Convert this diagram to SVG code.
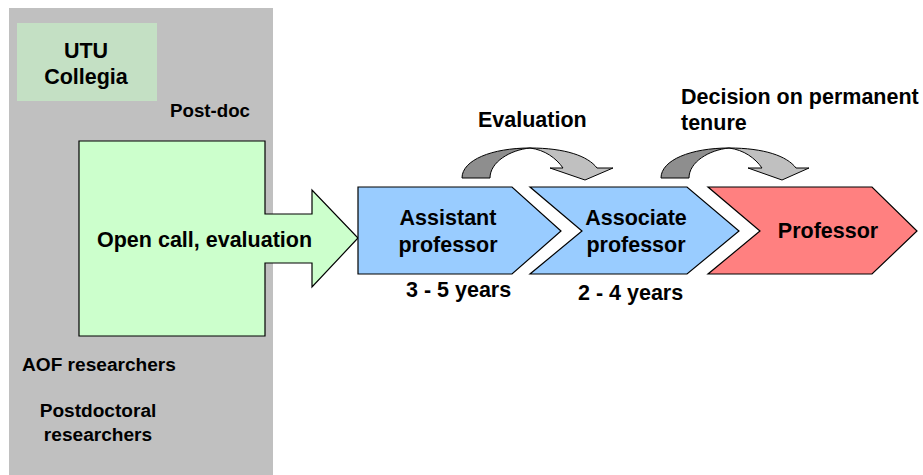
<svg xmlns="http://www.w3.org/2000/svg" width="923" height="475" viewBox="0 0 923 475">
<style>
text{font-family:"Liberation Sans",Arial,sans-serif;font-weight:bold;fill:#000}
.t21{font-size:21.5px}
.t19{font-size:19.1px}
.mid{text-anchor:middle}
.sh{stroke:#000;stroke-width:1.2;stroke-linejoin:miter}
.dark{fill:#8e8e8e;stroke:#000;stroke-width:1}
.light{fill:#c0c0c0;stroke:#000;stroke-width:1}
</style>
<rect width="923" height="475" fill="#fff"/>
<g id="background">
<rect x="9" y="8" width="264" height="467" fill="#c0c0c0"/>
</g>
<g id="utu-collegia">
<rect x="17" y="23" width="140" height="78" fill="#c4e0c4"/>
<text class="t21 mid" x="86" y="58">UTU</text>
<text class="t21 mid" x="86" y="84">Collegia</text>
</g>
<g id="postdoc-label">
<text class="t19" x="170" y="117" style="font-size:18.7px">Post-doc</text>
</g>
<g id="open-call">
<polygon class="sh" fill="#ccffcc" points="79,141 265,141 265,214 312,214 312,190 358,238 312,287 312,263 265,263 265,336 79,336"/>
<text class="t21" x="97" y="247">Open call, evaluation</text>
</g>
<g id="assistant">
<polygon class="sh" fill="#99ccff" points="358,187 512,187 561,231 512,274 358,274"/>
<text class="t21 mid" x="448" y="225">Assistant</text>
<text class="t21 mid" x="448" y="252">professor</text>
<text class="t21" x="406" y="297">3 - 5 years</text>
</g>
<g id="associate">
<polygon class="sh" fill="#99ccff" points="530,187 687,187 739,231 687,274 530,274 582,231"/>
<text class="t21 mid" x="636" y="225">Associate</text>
<text class="t21 mid" x="636" y="252">professor</text>
<text class="t21" x="578" y="300">2 - 4 years</text>
</g>
<g id="professor">
<polygon class="sh" fill="#ff8080" points="708,187 872,187 917,231 872,274 708,274 760,231"/>
<text class="t21 mid" x="828" y="238">Professor</text>
</g>
<g id="connectors">
<g id="evaluation-arrow">
<path class="dark" d="M462,178 C462,160 492,148 530,148 C510,150 490,162 490,178 Z"/>
<path class="light" d="M530,148 C565,148 588,156 597,168 L613,168 L585,180 L550,168 L563,168 C556,158 545,150 530,148 Z"/>
</g>
<g id="tenure-arrow" transform="translate(199,0)">
<path class="dark" d="M462,178 C462,160 492,148 530,148 C510,150 490,162 490,178 Z"/>
<path class="light" d="M530,148 C565,148 588,156 597,168 L610,168 L583,180 L549,168 L563,168 C556,158 545,150 530,148 Z"/>
</g>
</g>
<g id="labels">
<text class="t21" x="478" y="127">Evaluation</text>
<text class="t21" x="681" y="104">Decision on permanent</text>
<text class="t21" x="681" y="130">tenure</text>
<text class="t19" x="22" y="371">AOF researchers</text>
<text class="t19 mid" x="98" y="417">Postdoctoral</text>
<text class="t19 mid" x="98" y="441">researchers</text>
</g>
</svg>
